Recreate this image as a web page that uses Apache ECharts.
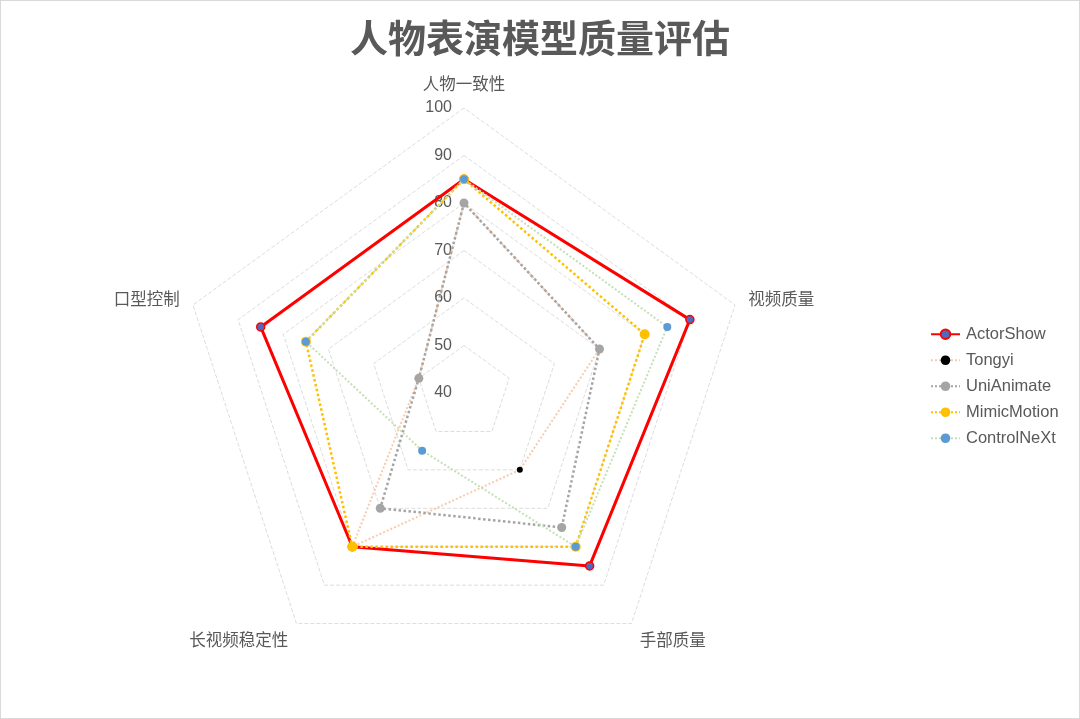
<!doctype html>
<html lang="zh">
<head>
	<meta charset="UTF-8">
	<title>人物表演模型质量评估</title>
	<script src="https://cdn.jsdelivr.net/npm/echarts@6/dist/echarts.min.js"></script>
	<style>
		html, body { margin: 0; padding: 0; width: 100%; height: 100%; background: #fff; }
		#main { position: absolute; left: 0; top: 0; width: 1078px; height: 717px; border: 1px solid #d9d9d9; }
	</style>
</head>
<body>
	<div id="main"></div>
	<script type="text/javascript">
		// indicators, listed counter-clockwise from the top (ECharts radar order)
		var indicators = ['人物一致性', '口型控制', '长视频稳定性', '手部质量', '视频质量'];
		var seriesNames = ['ActorShow', 'Tongyi', 'UniAnimate', 'MimicMotion', 'ControlNeXt'];
		var actorShow   = [85, 85, 80, 85, 90];
		var tongyi      = [80, 50, 80, 60, 70];
		var uniAnimate  = [80, 50, 70, 75, 70];
		var mimicMotion = [85, 75, 80, 80, 80];
		var controlNeXt = [85, 75, 55, 80, 85];

		var font = "'Liberation Sans', 'Noto Sans CJK SC', sans-serif";
		var myChart = echarts.init(document.getElementById('main'));

		var styles = {
			ActorShow:   { line: '#ff0000', type: 'solid',  width: 3,   dot: '#4f6bbf', border: '#ff0000', size: 8,  z: 3 },
			Tongyi:      { line: '#f8cbad', type: 'dotted', width: 2,   dot: '#000000', border: '#000000', size: 6,  z: 2 },
			UniAnimate:  { line: '#a5a5a5', type: 'dotted', width: 2.5, dot: '#a5a5a5', border: '#a5a5a5', size: 9,  z: 2 },
			MimicMotion: { line: '#ffc000', type: 'dotted', width: 2.5, dot: '#ffc000', border: '#ffc000', size: 10, z: 4 },
			ControlNeXt: { line: '#c5e0b4', type: 'dotted', width: 2,   dot: '#5b9bd5', border: '#5b9bd5', size: 8,  z: 5 }
		};
		var values = { ActorShow: actorShow, Tongyi: tongyi, UniAnimate: uniAnimate, MimicMotion: mimicMotion, ControlNeXt: controlNeXt };

		function itemStyle(s) {
			return { color: s.dot, borderColor: s.border, borderWidth: s.border === s.dot ? 0 : 1.5 };
		}

		// empty line series: only used so the legend draws line + marker icons
		var legendSeries = seriesNames.map(function (n) {
			var s = styles[n];
			return {
				name: n, type: 'line', data: [], symbol: 'circle', symbolSize: s.size,
				lineStyle: { color: s.line, type: s.type, width: s.width },
				itemStyle: itemStyle(s)
			};
		});
		var radarSeries = seriesNames.map(function (n) {
			var s = styles[n];
			return {
				name: n, type: 'radar', z: s.z, symbol: 'circle', symbolSize: s.size,
				lineStyle: { color: s.line, type: s.type, width: s.width },
				itemStyle: itemStyle(s),
				data: [{ name: n, value: values[n] }]
			};
		});

		var option = {
			title: {
				text: '人物表演模型质量评估',
				left: 'center',
				top: 17,
				textStyle: { fontFamily: font, fontSize: 38, fontWeight: 'bold', color: '#595959' }
			},
			legend: {
				data: seriesNames,
				orient: 'vertical',
				left: 924,
				top: 320,
				itemWidth: 29,
				itemHeight: 12,
				itemGap: 9.5,
				textStyle: { fontFamily: font, fontSize: 16.5, color: '#595959', padding: [0, 0, 0, 1] }
			},
			grid: { show: false, left: 0, top: 0, width: 1, height: 1 },
			xAxis: { show: false, type: 'category', data: [] },
			yAxis: { show: false, type: 'value' },
			radar: {
				center: [463, 392],
				radius: 285,
				startAngle: 90,
				splitNumber: 6,
				shape: 'polygon',
				nameGap: 14,
				axisName: {
					fontFamily: font, fontSize: 16.5, color: '#595959',
					formatter: function (name) {
						return (name === '长视频稳定性' || name === '手部质量') ? '{low|' + name + '}' : name;
					},
					rich: { low: { fontFamily: font, fontSize: 16.5, color: '#595959', padding: [13, 0, 0, 0] } }
				},
				axisLine: { show: false },
				axisTick: { show: false },
				axisLabel: { show: false },
				splitArea: { show: false },
				splitLine: { lineStyle: { color: '#dcdcdc', type: 'dashed', width: 1 } },
				indicator: indicators.map(function (n, i) {
					var ind = { name: n, min: 40, max: 100 };
					if (i === 0) {
						ind.axisLabel = { show: true, fontFamily: font, fontSize: 16, color: '#595959', margin: 12 };
					}
					return ind;
				})
			},
			series: legendSeries.concat(radarSeries)
		};
		myChart.setOption(option);
		window.onresize = () => myChart.resize();
	</script>
</body>
</html>
